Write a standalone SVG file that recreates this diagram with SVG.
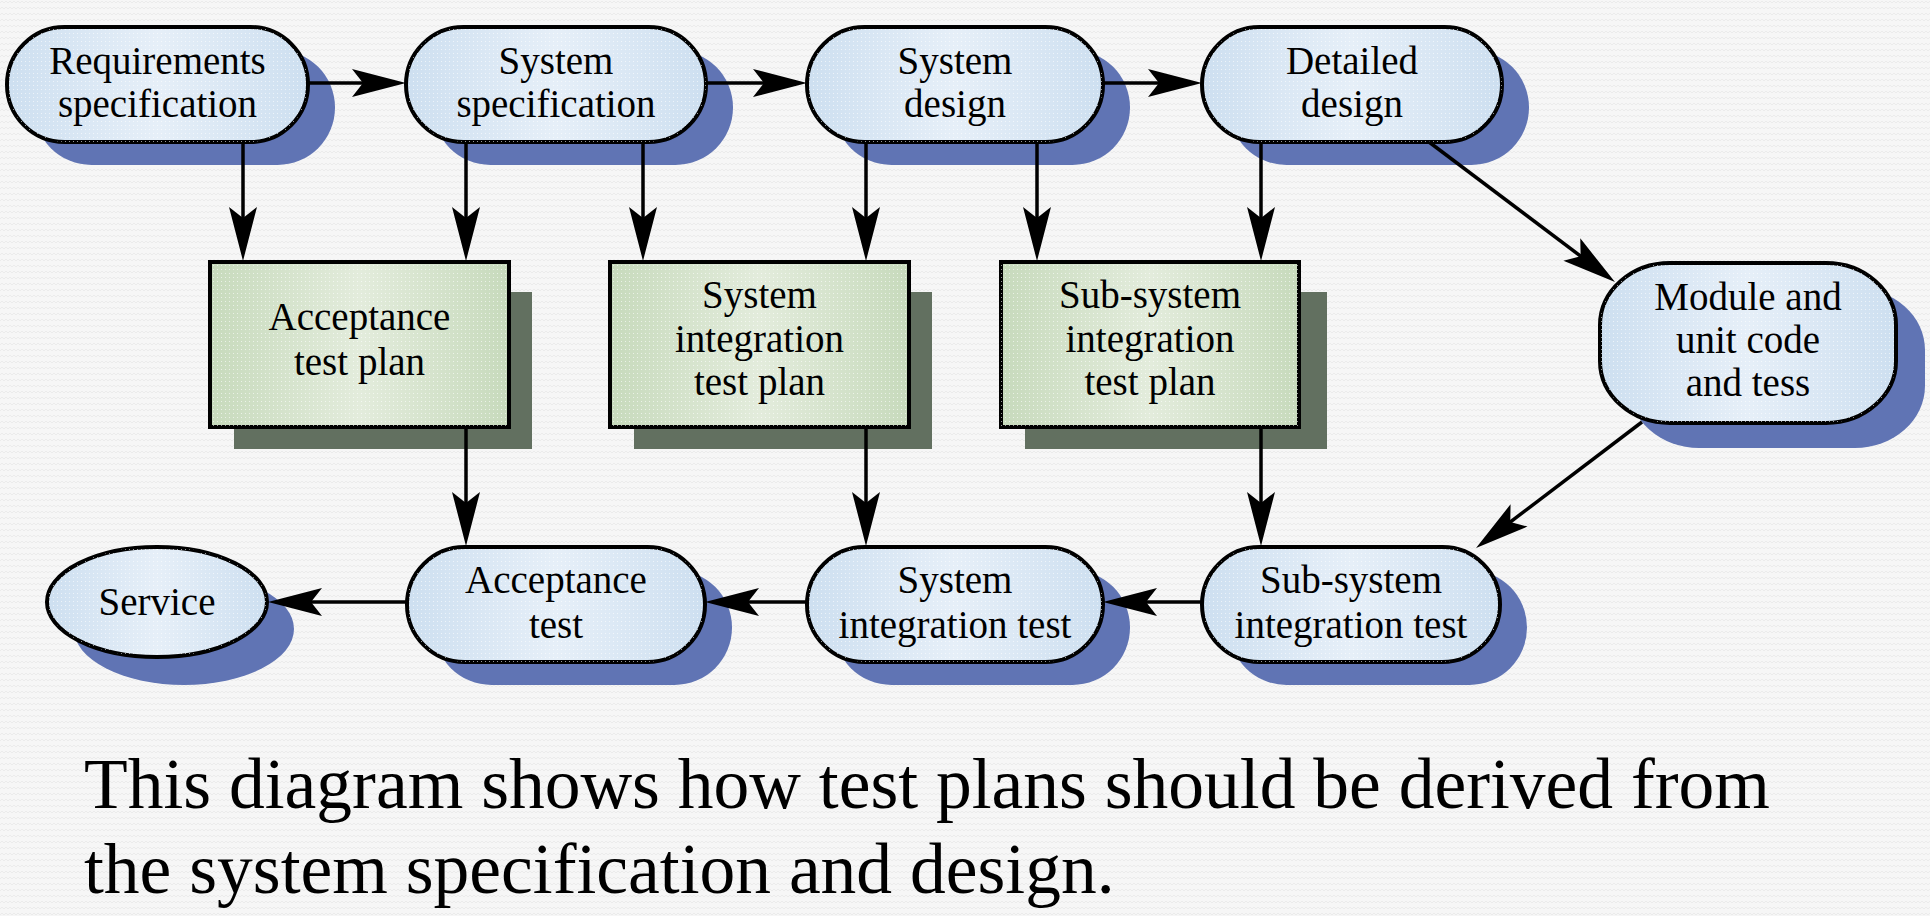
<svg xmlns="http://www.w3.org/2000/svg" width="1930" height="916" viewBox="0 0 1930 916">
<defs>
  <pattern id="bg" width="8" height="6" patternUnits="userSpaceOnUse">
    <rect width="8" height="6" fill="#f6f6f6"/>
    <path d="M0,3 L2,1 L4,3 L6,1 L8,3" fill="none" stroke="#e9e9e9" stroke-width="0.8"/>
  </pattern>
  <linearGradient id="blueGrad" x1="0" y1="0" x2="1" y2="0">
    <stop offset="0" stop-color="#cddff0"/>
    <stop offset="0.5" stop-color="#e6eff8"/>
    <stop offset="1" stop-color="#cddff0"/>
  </linearGradient>
  <linearGradient id="greenGrad" x1="0" y1="0" x2="1" y2="0">
    <stop offset="0" stop-color="#c7dabc"/>
    <stop offset="0.5" stop-color="#e3ecdc"/>
    <stop offset="1" stop-color="#c7dabc"/>
  </linearGradient>
  <pattern id="dots" width="4" height="4" patternUnits="userSpaceOnUse">
    <rect x="1" y="1" width="1" height="1" fill="#ffffff" fill-opacity="0.6"/>
  </pattern>
  <marker id="arr" markerUnits="userSpaceOnUse" orient="auto" viewBox="-46 -15 57 30" markerWidth="57" markerHeight="30" refX="0" refY="0" overflow="visible">
    <path d="M10,0 L-44,-14 L-33,0 L-44,14 Z" fill="#000"/>
  </marker>
  <style>
    .shb { fill: #6074b4; }
    .shg { fill: #627060; }
    .pill { fill: url(#blueGrad); stroke: #000; stroke-width: 4; }
    .box { fill: url(#greenGrad); stroke: #000; stroke-width: 4; }
    .dot { fill: url(#dots); stroke: none; }
    .t { font-family: "Liberation Serif", "Times New Roman", serif; font-size: 39px; fill: #000; text-anchor: middle; }
    .cap { font-family: "Liberation Serif", "Times New Roman", serif; font-size: 71.5px; fill: #000; }
    .c { fill: none; stroke: #000; stroke-width: 3.5; marker-end: url(#arr); }
  </style>
</defs>

<rect width="1930" height="916" fill="url(#bg)"/>

<g id="n-req">
  <rect class="shb" x="34" y="50" width="301" height="115" rx="57.5"/>
  <rect class="pill" x="7" y="27" width="301" height="115" rx="57.5"/>
  <rect class="dot" x="7" y="27" width="301" height="115" rx="57.5"/>
  <text class="t" x="157.5" y="74">Requirements</text>
  <text class="t" x="157.5" y="117">specification</text>
</g>

<g id="n-sysspec">
  <rect class="shb" x="433" y="50" width="300" height="115" rx="57.5"/>
  <rect class="pill" x="406" y="27" width="300" height="115" rx="57.5"/>
  <rect class="dot" x="406" y="27" width="300" height="115" rx="57.5"/>
  <text class="t" x="556" y="74">System</text>
  <text class="t" x="556" y="117">specification</text>
</g>

<g id="n-sysdesign">
  <rect class="shb" x="834" y="50" width="296" height="115" rx="57.5"/>
  <rect class="pill" x="807" y="27" width="296" height="115" rx="57.5"/>
  <rect class="dot" x="807" y="27" width="296" height="115" rx="57.5"/>
  <text class="t" x="955" y="74">System</text>
  <text class="t" x="955" y="117">design</text>
</g>

<g id="n-detailed">
  <rect class="shb" x="1229" y="50" width="300" height="115" rx="57.5"/>
  <rect class="pill" x="1202" y="27" width="300" height="115" rx="57.5"/>
  <rect class="dot" x="1202" y="27" width="300" height="115" rx="57.5"/>
  <text class="t" x="1352" y="74">Detailed</text>
  <text class="t" x="1352" y="117">design</text>
</g>

<g id="n-acctestplan">
  <rect class="shg" x="234" y="292" width="298" height="157"/>
  <rect class="box" x="210" y="262" width="299" height="165"/>
  <rect class="dot" x="210" y="262" width="299" height="165"/>
  <text class="t" x="359.5" y="330">Acceptance</text>
  <text class="t" x="359.5" y="375">test plan</text>
</g>

<g id="n-sysinttestplan">
  <rect class="shg" x="634" y="292" width="298" height="157"/>
  <rect class="box" x="610" y="262" width="299" height="165"/>
  <rect class="dot" x="610" y="262" width="299" height="165"/>
  <text class="t" x="759.5" y="308">System</text>
  <text class="t" x="759.5" y="352">integration</text>
  <text class="t" x="759.5" y="395">test plan</text>
</g>

<g id="n-subsystestplan">
  <rect class="shg" x="1025" y="292" width="302" height="157"/>
  <rect class="box" x="1001" y="262" width="298" height="165"/>
  <rect class="dot" x="1001" y="262" width="298" height="165"/>
  <text class="t" x="1150" y="308">Sub-system</text>
  <text class="t" x="1150" y="352">integration</text>
  <text class="t" x="1150" y="395">test plan</text>
</g>

<g id="n-module">
  <rect class="shb" x="1629" y="288" width="296" height="160" rx="70" ry="62"/>
  <rect class="pill" x="1600" y="263" width="296" height="160" rx="70" ry="62"/>
  <rect class="dot" x="1600" y="263" width="296" height="160" rx="70" ry="62"/>
  <text class="t" x="1748" y="310">Module and</text>
  <text class="t" x="1748" y="353">unit code</text>
  <text class="t" x="1748" y="396">and tess</text>
</g>

<g id="n-service">
  <ellipse class="shb" cx="184" cy="629" rx="110" ry="56"/>
  <ellipse class="pill" cx="157" cy="602" rx="110" ry="55"/>
  <ellipse class="dot" cx="157" cy="602" rx="110" ry="55"/>
  <text class="t" x="157" y="615">Service</text>
</g>

<g id="n-acctest">
  <rect class="shb" x="434" y="570" width="298" height="115" rx="57.5"/>
  <rect class="pill" x="407" y="547" width="298" height="115" rx="57.5"/>
  <rect class="dot" x="407" y="547" width="298" height="115" rx="57.5"/>
  <text class="t" x="556" y="593">Acceptance</text>
  <text class="t" x="556" y="638">test</text>
</g>

<g id="n-sysinttest">
  <rect class="shb" x="834" y="570" width="296" height="115" rx="57.5"/>
  <rect class="pill" x="807" y="547" width="296" height="115" rx="57.5"/>
  <rect class="dot" x="807" y="547" width="296" height="115" rx="57.5"/>
  <text class="t" x="955" y="593">System</text>
  <text class="t" x="955" y="638">integration test</text>
</g>

<g id="n-subsysinttest">
  <rect class="shb" x="1229" y="570" width="298" height="115" rx="57.5"/>
  <rect class="pill" x="1202" y="547" width="298" height="115" rx="57.5"/>
  <rect class="dot" x="1202" y="547" width="298" height="115" rx="57.5"/>
  <text class="t" x="1351" y="593">Sub-system</text>
  <text class="t" x="1351" y="638">integration test</text>
</g>

<g id="connectors">
  <line class="c" x1="308" y1="83" x2="396" y2="83"/>
  <line class="c" x1="706" y1="83" x2="797" y2="83"/>
  <line class="c" x1="1103" y1="83" x2="1192" y2="83"/>
  <line class="c" x1="243" y1="142" x2="243" y2="251"/>
  <line class="c" x1="466" y1="142" x2="466" y2="251"/>
  <line class="c" x1="643" y1="142" x2="643" y2="251"/>
  <line class="c" x1="866" y1="142" x2="866" y2="251"/>
  <line class="c" x1="1037" y1="142" x2="1037" y2="251"/>
  <line class="c" x1="1261" y1="142" x2="1261" y2="251"/>
  <line class="c" x1="466" y1="427" x2="466" y2="536"/>
  <line class="c" x1="866" y1="427" x2="866" y2="536"/>
  <line class="c" x1="1261" y1="427" x2="1261" y2="536"/>
  <line class="c" x1="1429" y1="142" x2="1607" y2="276"/>
  <line class="c" x1="1642" y1="422" x2="1484" y2="542"/>
  <line class="c" x1="1202" y1="602" x2="1113" y2="602"/>
  <line class="c" x1="807" y1="602" x2="715" y2="602"/>
  <line class="c" x1="407" y1="602" x2="278" y2="602"/>
</g>

<text class="cap" x="84" y="808">This diagram shows how test plans should be derived from</text>
<text class="cap" x="84" y="893">the system specification and design.</text>
</svg>
